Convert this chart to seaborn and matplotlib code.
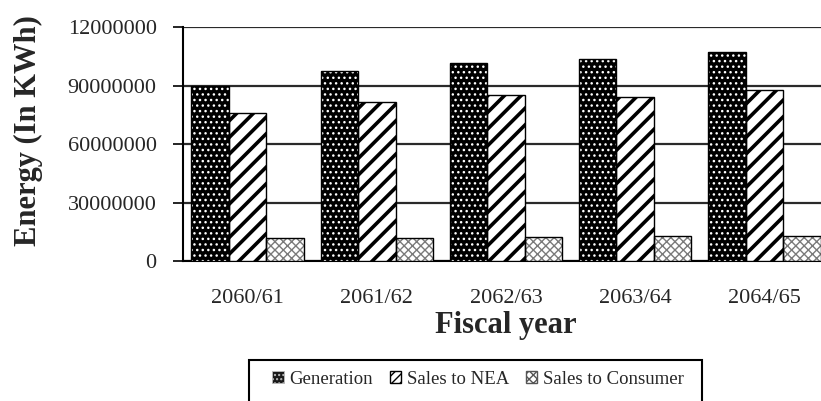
import matplotlib
matplotlib.use("Agg")
import matplotlib.pyplot as plt
import seaborn as sns
import pandas as pd
from matplotlib.patches import Rectangle, Patch

years = ["2060/61", "2061/62", "2062/63", "2063/64", "2064/65"]
series = ["Generation", "Sales to NEA", "Sales to Consumer"]
generation = [90000000, 97500000, 101800000, 103500000, 107300000]
sales_nea = [75900000, 81500000, 85000000, 84300000, 87700000]
sales_consumer = [11700000, 12000000, 12500000, 12900000, 13000000]
yticks = [0, 30000000, 60000000, 90000000, 120000000]
ytick_labels = ["0", "30000000", "60000000", "90000000", "12000000"]

df = pd.DataFrame({
    "year": years * 3,
    "series": [series[0]] * 5 + [series[1]] * 5 + [series[2]] * 5,
    "value": generation + sales_nea + sales_consumer,
})

sns.set_style("white")
plt.rcParams["font.family"] = ["Liberation Serif", "DejaVu Serif"]
plt.rcParams["hatch.linewidth"] = 1.0

fig = plt.figure(figsize=(8.21, 4.01), dpi=100)
ax = fig.add_axes([183 / 821, 1 - 261 / 401, (829 - 183) / 821, (261 - 27.3) / 401])

sns.barplot(data=df, x="year", y="value", hue="series", order=years,
            hue_order=series, palette=["black", "white", "white"],
            width=0.87, ax=ax, legend=False, zorder=3)

styles = [
    dict(fc="black", ec="white", hatch="...", lw=0, hlw=1.0),
    dict(fc="white", ec="black", hatch="//", lw=0, hlw=2.6),
    dict(fc="white", ec="#7a7a7a", hatch="xxxx", lw=0, hlw=1.0),
]
for cont, st in zip(ax.containers, styles):
    for p in cont.patches:
        p.set_facecolor(st["fc"])
        p.set_edgecolor(st["ec"])
        p.set_hatch(st["hatch"])
        p.set_linewidth(st["lw"])
        if hasattr(p, "set_hatch_linewidth"):
            p.set_hatch_linewidth(st["hlw"])
        ax.add_patch(Rectangle(p.get_xy(), p.get_width(), p.get_height(),
                               fill=False, ec="black", lw=1.0, zorder=4))

ax.set_ylim(0, 120000000)
ax.set_xlim(-0.5, 4.5)
ax.set_yticks(yticks)
ax.set_yticklabels(ytick_labels, fontsize=16)
ax.yaxis.grid(True, color="#2a2a2a", lw=1.6, zorder=0)
ax.set_axisbelow(True)
ax.set_xticks(range(len(years)))
ax.set_xticklabels(years, fontsize=16)
ax.set_xticks([i - 0.5 for i in range(len(years) + 1)], minor=True)
ax.tick_params(axis="x", which="major", length=0, pad=20)
ax.tick_params(axis="x", which="minor", length=6, width=1.2, color="black", direction="out")
ax.tick_params(axis="y", length=7, width=1.2, color="black", direction="out", pad=12, left=True)
for s in ["top", "right"]:
    ax.spines[s].set_visible(False)
for s in ["left", "bottom"]:
    ax.spines[s].set_color("black")
    ax.spines[s].set_linewidth(1.5)

ax.set_ylabel("Energy (In KWh)", fontsize=22, fontweight="bold")
ax.set_xlabel("Fiscal year", fontsize=22, fontweight="bold")
ax.yaxis.set_label_coords(-0.217, 0.56)
ax.xaxis.set_label_coords(0.5, -0.215)

# legend box (frame drawn separately so horizontal padding can be wider)
fig.patches.append(Rectangle((249 / 821, -0.05), (702 - 249) / 821, 0.05 + (401 - 360) / 401,
                             transform=fig.transFigure, fill=False, ec="black", lw=1.5))
handles = [
    Patch(fc="#1a1a1a", ec="#bbbbbb", hatch="....", lw=0.6),
    Patch(fc="white", ec="black", hatch="////", lw=1),
    Patch(fc="white", ec="#555555", hatch="xxxx", lw=1),
]
leg = fig.legend(handles, series, loc="center", ncol=3,
                 bbox_to_anchor=(478 / 821, 1 - 379 / 401), fontsize=13.5,
                 frameon=False,
                 handlelength=0.6, handleheight=0.6, handletextpad=0.3,
                 columnspacing=0.9, borderpad=0.2, borderaxespad=0)

fig.savefig("out.png", dpi=100)
